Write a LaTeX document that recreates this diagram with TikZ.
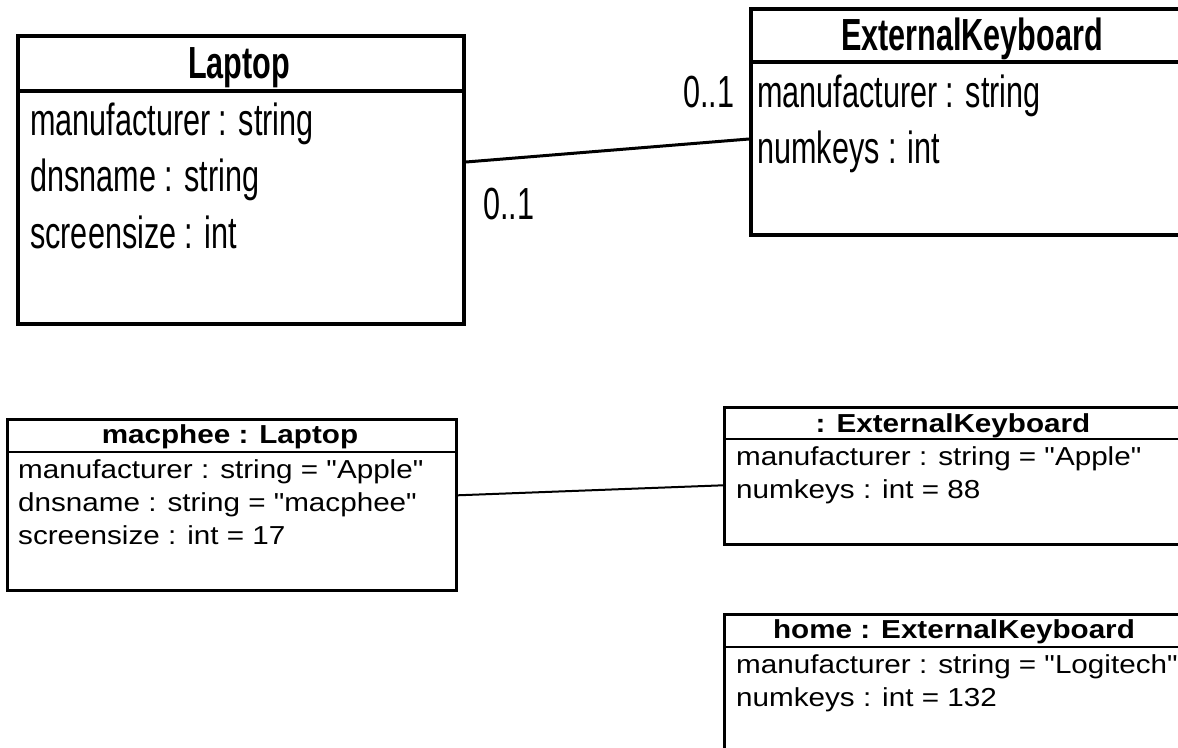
\documentclass[tikz,border=0pt]{standalone}
\usepackage{fontspec}
\setmainfont{Liberation Sans}
\newfontfamily\classfont{Liberation Sans}[FakeStretch=0.68]
\newfontfamily\objfont{Liberation Sans}[FakeStretch=1.14]

\tikzset{
  classbox/.style={draw, rectangle, line width=4pt, inner sep=0pt, anchor=north west},
  objbox/.style={draw, rectangle, line width=2.6pt, inner sep=0pt, anchor=north west},
  classtitle/.style={anchor=base, inner sep=0pt, font=\fontsize{45}{54}\selectfont\classfont\bfseries},
  classattr/.style={anchor=base west, inner sep=0pt, font=\fontsize{45}{54}\selectfont\classfont},
  objtitle/.style={anchor=base, inner sep=0pt, font=\fontsize{26}{31}\selectfont\objfont\bfseries},
  objattr/.style={anchor=base west, inner sep=0pt, font=\fontsize{26}{31}\selectfont\objfont},
  classlink/.style={line width=3pt},
  objlink/.style={line width=2pt},
}

\begin{document}
\begin{tikzpicture}[x=1pt, y=-1pt]
  \useasboundingbox (0,0) rectangle (1178,747);
  \fill[white] (0,0) rectangle (1178,747);
  \clip (0,0) rectangle (1178,747);

  % ---------- class diagram ----------
  \node[classbox, minimum width=446pt, minimum height=288pt] (laptop) at (16,34) {};
  \draw[line width=4pt] (laptop.west |- 0,91) -- (laptop.east |- 0,91);
  \node[classtitle] (laptop-title) at (239,78) {Laptop};
  \node[classattr] (laptop-a1) at (30,135) {manufacturer : string};
  \node[classattr] (laptop-a2) at (30,191) {dnsname : string};
  \node[classattr] (laptop-a3) at (30,248) {screensize : int};

  \node[classbox, minimum width=446pt, minimum height=226pt] (extkb) at (749,7) {};
  \draw[line width=4pt] (extkb.west |- 0,62) -- (extkb.east |- 0,62);
  \node[classtitle] (extkb-title) at (972,50) {ExternalKeyboard};
  \node[classattr] (extkb-a1) at (757,107) {manufacturer : string};
  \node[classattr] (extkb-a2) at (757,163) {numkeys : int};

  \draw[classlink] ([yshift=18pt]laptop.east) -- ([yshift=-17pt]extkb.west);
  \node[classattr] (mult-kb) at (683,107) {0..1};
  \node[classattr] (mult-laptop) at (483,219) {0..1};

  % ---------- object diagram ----------
  \node[objbox, minimum width=449pt, minimum height=171pt] (macphee) at (6,418) {};
  \draw[line width=2.6pt] (macphee.west |- 0,452) -- (macphee.east |- 0,452);
  \node[objtitle] (macphee-title) at (230,443) {macphee : Laptop};
  \node[objattr] (macphee-a1) at (18,478) {manufacturer : string = "Apple"};
  \node[objattr] (macphee-a2) at (18,511) {dnsname : string = "macphee"};
  \node[objattr] (macphee-a3) at (18,544) {screensize : int = 17};

  \node[objbox, minimum width=460pt, minimum height=137pt] (kb) at (723,406) {};
  \draw[line width=2.6pt] (kb.west |- 0,439) -- (kb.east |- 0,439);
  \node[objtitle] (kb-title) at (953,432) {: ExternalKeyboard};
  \node[objattr] (kb-a1) at (736,465) {manufacturer : string = "Apple"};
  \node[objattr] (kb-a2) at (736,498) {numkeys : int = 88};

  \draw[objlink] ([yshift=9.5pt]macphee.east) -- ([yshift=-9.5pt]kb.west);

  \node[objbox, minimum width=460pt, minimum height=140pt] (home) at (723,613) {};
  \draw[line width=2.6pt] (home.west |- 0,647) -- (home.east |- 0,647);
  \node[objtitle] (home-title) at (954,638) {home : ExternalKeyboard};
  \node[objattr] (home-a1) at (736,673) {manufacturer : string = "Logitech"};
  \node[objattr] (home-a2) at (736,706) {numkeys : int = 132};
\end{tikzpicture}
\end{document}
